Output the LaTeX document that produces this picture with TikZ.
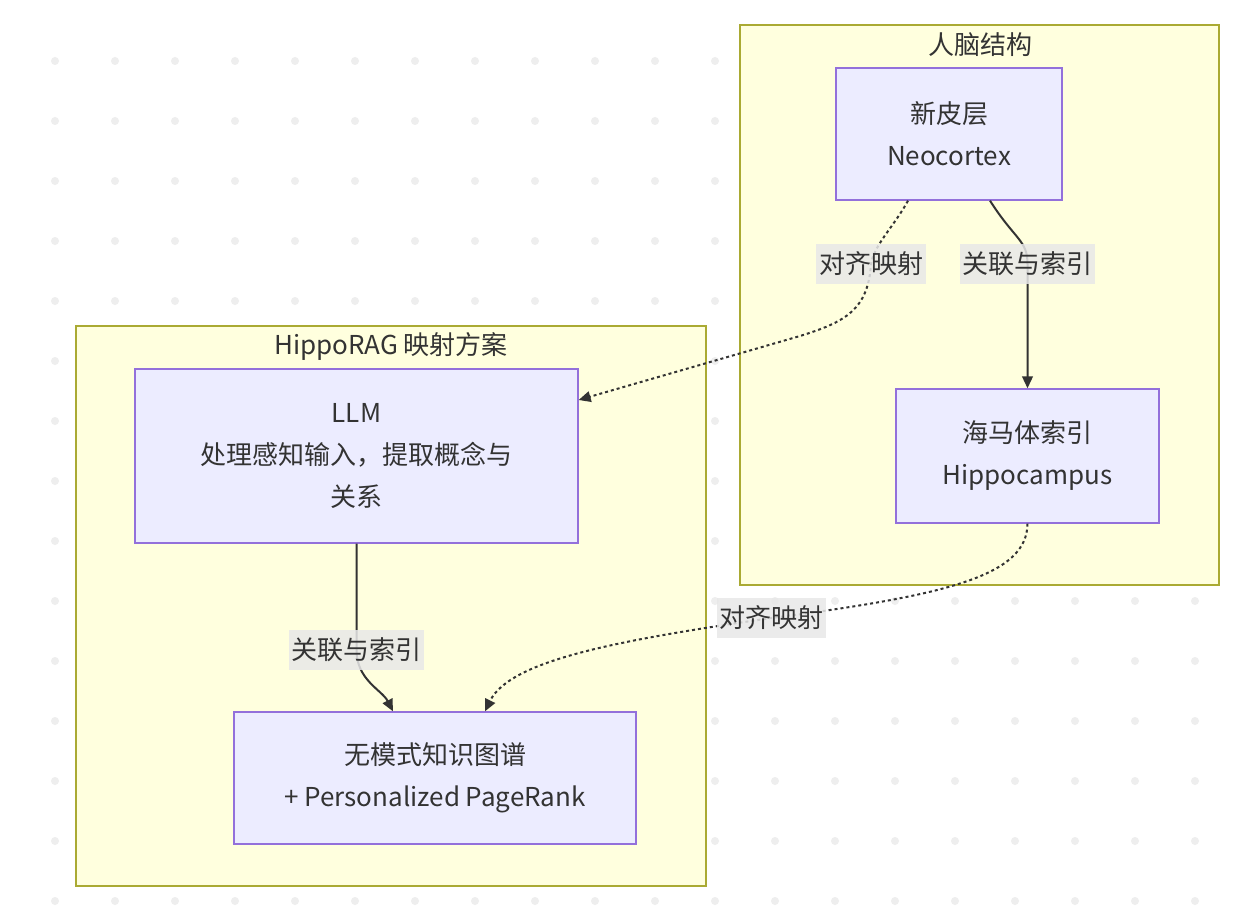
\documentclass[tikz,border=0pt]{standalone}
\usepackage{fontspec}
\setmainfont{Noto Sans CJK SC}
\usepackage{tikz}
\usetikzlibrary{arrows.meta}
\definecolor{clusterfill}{HTML}{FFFFDE}
\definecolor{clusterline}{HTML}{AAAA33}
\definecolor{boxfill}{HTML}{ECECFF}
\definecolor{boxline}{HTML}{9370DB}
\definecolor{inkgray}{HTML}{333333}
\definecolor{lblgray}{HTML}{E8E8E8}
\definecolor{dotgray}{HTML}{EEEEEE}
\tikzset{every picture/.style={line width=0.75pt}}

\begin{document}
\begin{tikzpicture}[x=0.75pt,y=0.75pt,yscale=-1,xscale=1,
	txt/.style={text=inkgray, font=\fontsize{19.5}{31.5}\selectfont, align=center},
	cluster/.style={draw=clusterline, fill=clusterfill, line width=1pt, inner sep=0pt},
	box/.style={txt, draw=boxline, fill=boxfill, line width=1pt, inner sep=0pt},
	lbl/.style={txt, fill=lblgray, fill opacity=0.85, text opacity=1, inner xsep=2pt, inner ysep=0pt, minimum height=30pt},
	link/.style={draw=inkgray, line width=1.5pt, -{Triangle[length=9pt,width=8pt]}},
	dotlink/.style={link, dash pattern=on 2.25pt off 2.25pt}]
		%set diagram to 1254 x 906
		\useasboundingbox (0,0) rectangle (1254,906);
		\fill [white] (0,0) rectangle (1254,906);
		
		%Dot grid
		\foreach \x in {55,115,...,1195}
			\foreach \y in {61,121,...,901}
				\fill [dotgray] (\x,\y) circle [radius=3pt];
		
		%Subgraph: brain
		\node [cluster, minimum width=359.25pt, minimum height=420pt] (brain) at (979.5,305) {};
		\node [txt] (braintitle) at (980,45) {人脑结构};
		
		%Subgraph: HippoRAG
		\node [cluster, minimum width=472.5pt, minimum height=420pt] (rag) at (391,606) {};
		\node [txt] (ragtitle) at (391,346) {HippoRAG 映射方案};
		
		%Boxes
		\node [box, minimum width=169.5pt, minimum height=99pt] (neo) at (949,134) {新皮层\\Neocortex};
		\node [box, minimum width=197.25pt, minimum height=100.5pt] (hippo) at (1027.5,456) {海马体索引\\Hippocampus};
		\node [box, minimum width=332.25pt, minimum height=130.5pt] (llm) at (356.5,456) {LLM\\处理感知输入，提取概念与\\关系};
		\node [box, minimum width=301.5pt, minimum height=99pt] (kg) at (435,778) {无模式知识图谱\\+ Personalized PageRank};
		
		%Edges
		\draw [link] ([xshift=30.75pt]neo.south) .. controls (1015,240) and (1027.5,240) .. (1027.5,264) node [lbl] (lblneo) {关联与索引} -- (hippo.north);
		\draw [dotlink] ([xshift=-30.75pt]neo.south) .. controls (895,225) and (874,245) .. (871,264) node [lbl] (lblalign) {对齐映射} .. controls (868,310) and (845,322) .. (800,336) .. controls (700,365) and (620,388) .. ([yshift=-42pt]llm.east);
		\draw [link] (llm.south) -- (356.5,650) node [lbl] (lblllm) {关联与索引} .. controls (356.5,680) and (382,690) .. ([xshift=-31.5pt]kg.north);
		\draw [dotlink] (hippo.south) .. controls (1027,575) and (950,595) .. (771.5,618) node [lbl] (lblhippo) {对齐映射} .. controls (620,640) and (510,660) .. ([xshift=37.5pt]kg.north);
		
\end{tikzpicture}
\end{document}
